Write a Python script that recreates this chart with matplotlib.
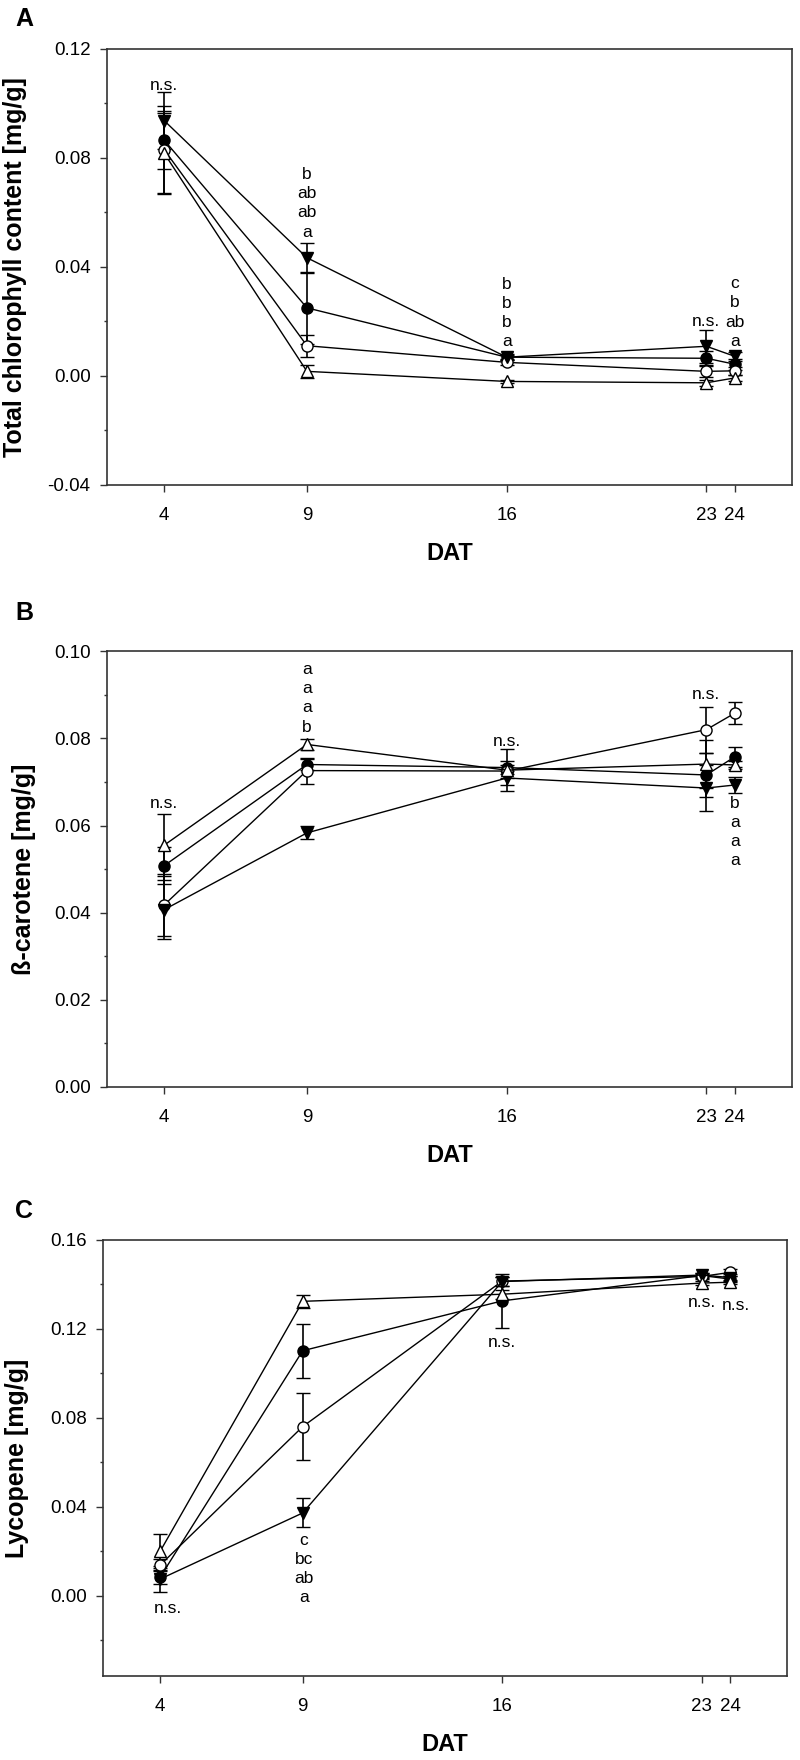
import matplotlib
matplotlib.use('Agg')
import matplotlib.pyplot as plt
from matplotlib.ticker import MultipleLocator

plt.rcParams['font.family'] = ['Liberation Sans', 'DejaVu Sans']

days = [4, 9, 16, 23, 24]

# A - total chlorophyll
chl_fc = [0.0864, 0.0249, 0.0068, 0.0064, 0.0042]
chl_oc = [0.0829, 0.0110, 0.0049, 0.0016, 0.0018]
chl_ft = [0.0936, 0.0433, 0.0068, 0.0108, 0.0071]
chl_ot = [0.0816, 0.0016, -0.0021, -0.0026, -0.0008]
chl_fc_err = [0.0106, 0.0131, 0.0010, 0.0025, 0.0020]
chl_oc_err = [0.0160, 0.0040, 0.0010, 0.0020, 0.0015]
chl_ft_err = [0.0104, 0.0055, 0.0008, 0.0060, 0.0017]
chl_ot_err = [0.0148, 0.0025, 0.0005, 0.0010, 0.0010]

# B - beta-carotene
car_fc = [0.0508, 0.0740, 0.0733, 0.0716, 0.0758]
car_oc = [0.0418, 0.0726, 0.0725, 0.0820, 0.0858]
car_ft = [0.0407, 0.0583, 0.0709, 0.0686, 0.0693]
car_ot = [0.0555, 0.0786, 0.0727, 0.0741, 0.0739]
car_fc_err = [0.0043, 0.0013, 0.0015, 0.0050, 0.0023]
car_oc_err = [0.0071, 0.0030, 0.0015, 0.0053, 0.0025]
car_ft_err = [0.0068, 0.0015, 0.0015, 0.0053, 0.0019]
car_ot_err = [0.0072, 0.0012, 0.0048, 0.0056, 0.0010]

# C - lycopene
lyc_fc = [0.0085, 0.1102, 0.1326, 0.1440, 0.1424]
lyc_oc = [0.0139, 0.0761, 0.1415, 0.1436, 0.1454]
lyc_ft = [0.0076, 0.0373, 0.1413, 0.1442, 0.1431]
lyc_ot = [0.0201, 0.1324, 0.1356, 0.1406, 0.1410]
lyc_fc_err = [0.0030, 0.0122, 0.0121, 0.0010, 0.0015]
lyc_oc_err = [0.0025, 0.0152, 0.0020, 0.0010, 0.0015]
lyc_ft_err = [0.0058, 0.0065, 0.0020, 0.0010, 0.0015]
lyc_ot_err = [0.0076, 0.0028, 0.0020, 0.0010, 0.0010]

# significance letters (x, y, text)
notes_a = [(4, 0.1065, 'n.s.'),
           (9, 0.0740, 'b'), (9, 0.0669, 'ab'), (9, 0.0598, 'ab'), (9, 0.0527, 'a'),
           (16, 0.0334, 'b'), (16, 0.0265, 'b'), (16, 0.0195, 'b'), (16, 0.0125, 'a'),
           (23, 0.0200, 'n.s.'),
           (24, 0.0337, 'c'), (24, 0.0268, 'b'), (24, 0.0197, 'ab'), (24, 0.0127, 'a')]
notes_b = [(4, 0.0650, 'n.s.'),
           (9, 0.0957, 'a'), (9, 0.0914, 'a'), (9, 0.0870, 'a'), (9, 0.0826, 'b'),
           (16, 0.0793, 'n.s.'),
           (23, 0.0900, 'n.s.'),
           (24, 0.0651, 'b'), (24, 0.0606, 'a'), (24, 0.0563, 'a'), (24, 0.0520, 'a')]
notes_c = [(4.27, -0.0057, 'n.s.'),
           (9.05, 0.0251, 'c'), (9.05, 0.0165, 'bc'), (9.05, 0.0080, 'ab'), (9.05, -0.0007, 'a'),
           (16, 0.1138, 'n.s.'),
           (23, 0.1321, 'n.s.'),
           (24.2, 0.1307, 'n.s.')]

styles = [('o', 'black'), ('o', 'white'), ('v', 'black'), ('^', 'white')]

fig = plt.figure(figsize=(8, 17.6), dpi=100)

panels = [
    ([0.134, 0.7246, 0.856, 0.2477], 'A', 'Total chlorophyll content [mg/g]',
     [chl_fc, chl_oc, chl_ft, chl_ot], [chl_fc_err, chl_oc_err, chl_ft_err, chl_ot_err],
     (-0.04, 0.12), [-0.04, 0.0, 0.04, 0.08, 0.12], 0.02, notes_a, 0.9892, -0.134),
    ([0.134, 0.3824, 0.856, 0.2476], 'B', 'ß-carotene [mg/g]',
     [car_fc, car_oc, car_ft, car_ot], [car_fc_err, car_oc_err, car_ft_err, car_ot_err],
     (0.0, 0.10), [0.0, 0.02, 0.04, 0.06, 0.08, 0.10], 0.01, notes_b, 0.6517, -0.122),
    ([0.129, 0.0477, 0.855, 0.2478], 'C', 'Lycopene [mg/g]',
     [lyc_fc, lyc_oc, lyc_ft, lyc_ot], [lyc_fc_err, lyc_oc_err, lyc_ft_err, lyc_ot_err],
     (-0.036, 0.16), [0.0, 0.04, 0.08, 0.12, 0.16], 0.02, notes_c, 0.312, -0.126),
]

for rect, letter, ylab, series, errs, ylim, yticks, ymin, notes, ly, ylx in panels:
    ax = fig.add_axes(rect)
    for (m, fc), vals, err in zip(styles, series, errs):
        ax.errorbar(days, vals, yerr=err, fmt='-', color='black', lw=1.0,
                    marker=m, markersize=8, markerfacecolor=fc,
                    markeredgecolor='black', markeredgewidth=1.0,
                    ecolor='black', elinewidth=1.2, capsize=5, capthick=1.2)
    for x, y, t in notes:
        ax.text(x, y, t, ha='center', va='center', fontsize=12.5)
    ax.set_xlim(2, 26)
    ax.set_ylim(*ylim)
    ax.set_xticks(days)
    ax.set_xticklabels([str(d) for d in days])
    ax.set_yticks(yticks)
    ax.set_yticklabels(['%.2f' % v for v in yticks])
    ax.yaxis.set_minor_locator(MultipleLocator(ymin))
    ax.tick_params(axis='both', which='major', direction='out', length=5,
                   width=1.0, labelsize=13.5, color='#333333')
    ax.tick_params(axis='y', which='major', pad=7)
    ax.tick_params(axis='x', which='major', pad=11)
    ax.tick_params(axis='y', which='minor', direction='out', length=2, width=1.0,
                   color='#333333')
    for s in ax.spines.values():
        s.set_linewidth(1.2)
        s.set_color('#333333')
    ax.set_ylabel(ylab, fontsize=18, fontweight='bold', va='center')
    ax.yaxis.set_label_coords(ylx, 0.5)
    ax.set_xlabel('DAT', fontsize=17, fontweight='bold', va='center')
    ax.xaxis.set_label_coords(0.5, -0.158)
    fig.text(0.03, ly, letter, fontsize=18, fontweight='bold', ha='center', va='center')

fig.savefig('out.png', dpi=100)
